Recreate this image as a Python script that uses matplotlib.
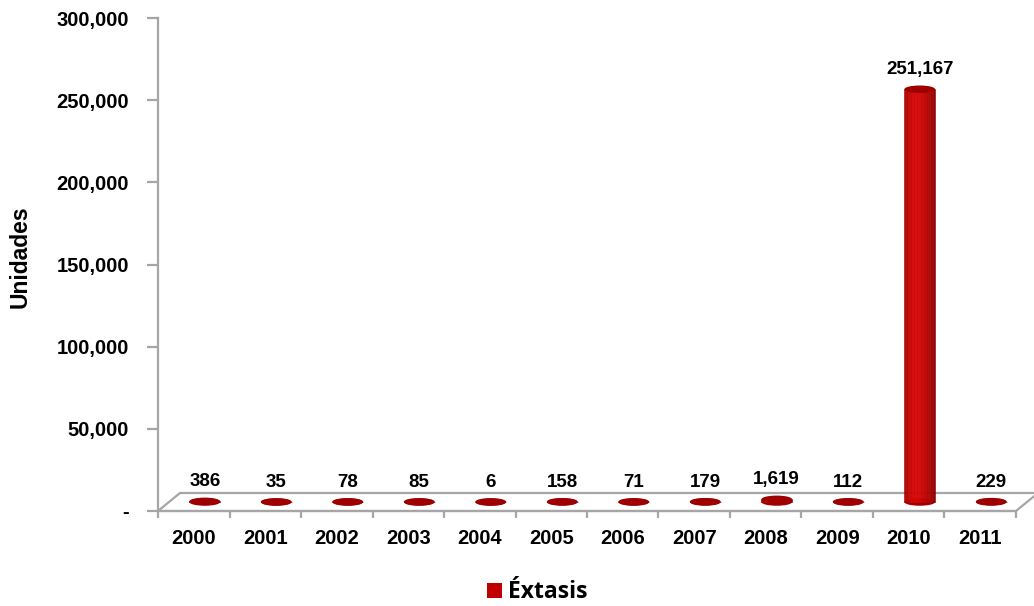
import matplotlib
matplotlib.use("Agg")
import matplotlib.pyplot as plt
import matplotlib.transforms as mtrans
from matplotlib.patches import Ellipse, Polygon, Rectangle
import numpy as np

years = ["2000", "2001", "2002", "2003", "2004", "2005", "2006", "2007", "2008", "2009", "2010", "2011"]
values = [386, 35, 78, 85, 6, 158, 71, 179, 1619, 112, 251167, 229]
labels = ["386", "35", "78", "85", "6", "158", "71", "179", "1,619", "112", "251,167", "229"]
yticks = [0, 50000, 100000, 150000, 200000, 250000, 300000]
yticklabels = ["-", "50,000", "100,000", "150,000", "200,000", "250,000", "300,000"]
series_name = "Éxtasis"

W, H = 1034, 606
DPI = 100
fig = plt.figure(figsize=(W / DPI, H / DPI), dpi=DPI)
NARROW = ["Liberation Sans Narrow", "Liberation Sans", "DejaVu Sans"]
plt.rcParams["font.family"] = NARROW

L, R, T, B = 158, 1016, 18, 511
ax = fig.add_axes([L / W, 1 - B / H, (R - L) / W, (B - T) / H])
ax.set_xlim(-0.5, len(years) - 0.5)
ax.set_ylim(0, 300000)

grey = "#A6A6A6"
for s in ["top", "right"]:
    ax.spines[s].set_visible(False)
ax.spines["left"].set_color(grey)
ax.spines["left"].set_linewidth(1.6)
ax.spines["bottom"].set_color(grey)
ax.spines["bottom"].set_linewidth(1.6)

ax.set_yticks(yticks)
ax.set_yticklabels(yticklabels, fontsize=14.5, fontweight="bold")
ax.tick_params(axis="y", length=8, width=1.6, color=grey, pad=13)

x = np.arange(len(years))
ax.set_xticks(x)
ax.set_xticklabels(years, fontsize=14.5, fontweight="bold")
ax.tick_params(axis="x", which="major", length=0, pad=13)
ax.set_xticks(np.arange(len(years) + 1) - 0.5, minor=True)
ax.tick_params(axis="x", which="minor", length=5, width=1.6, color=grey)

ax.set_ylabel("Unidades", fontsize=16.5, fontweight="bold",
              family=["Liberation Sans", "DejaVu Sans"])
ax.yaxis.set_label_coords(-(158 - 32) / (1016 - 158), (511 - 257) / (511 - 18))

# 3D floor
dx, dy = 22, 18
ax_w, ax_h = R - L, B - T
floor = Polygon([(0, 0), (1, 0), (1 + dx / ax_w, dy / ax_h), (dx / ax_w, dy / ax_h)],
                closed=True, transform=ax.transAxes, facecolor="white",
                edgecolor=grey, linewidth=1.6, clip_on=False, zorder=1)
ax.add_patch(floor)

# offset transform for the cylinders (middle of the floor depth)
off = mtrans.ScaledTranslation(11 / DPI, 9 / DPI, fig.dpi_scale_trans)
trans = ax.transData + off

bw = 0.43
px_per_unit = ax_h / 300000.0
eh = 7.5 / px_per_unit  # ellipse height in data units

# gradient colours for body
N = 40
pos = (np.arange(N) + 0.5) / N
c_dark_l = np.array([0.62, 0.0, 0.0])
c_bright = np.array([0.84, 0.02, 0.02])
c_dark_r = np.array([0.55, 0.0, 0.0])
cols = []
for p in pos:
    if p < 0.35:
        t = p / 0.35
        c = c_dark_l + (c_bright - c_dark_l) * np.sqrt(t)
    else:
        t = (p - 0.35) / 0.65
        c = c_bright + (c_dark_r - c_bright) * t ** 1.6
    cols.append(tuple(c))

for xi, v, lab in zip(x, values, labels):
    ax.add_patch(Ellipse((xi, 0), bw, eh, transform=trans, facecolor="#A00000",
                         edgecolor="none", zorder=2, clip_on=False))
    strip_x = xi - bw / 2 + pos * bw
    ax.bar(strip_x, [v] * N, width=bw / N, color=cols, edgecolor=cols,
           linewidth=0.4, transform=trans, zorder=3, clip_on=False)
    ax.add_patch(Ellipse((xi, v), bw, eh, transform=trans, facecolor="#9E0000",
                         edgecolor="none", zorder=4, clip_on=False))
    ax.annotate(lab, xy=(xi, v), xycoords=trans, xytext=(0, 8),
                textcoords="offset points", ha="center", va="bottom",
                fontsize=13.5, fontweight="bold", zorder=5)

# legend
fig.patches.append(Rectangle((487 / W, 1 - 598 / H), 15 / W, 15 / H,
                             transform=fig.transFigure, facecolor="#C00000",
                             edgecolor="none"))
fig.text(508 / W, 1 - 598 / H, series_name, fontsize=16.5, fontweight="bold",
         family=["Open Sans", "DejaVu Sans"], ha="left", va="baseline")

fig.savefig("out.png", dpi=DPI)
